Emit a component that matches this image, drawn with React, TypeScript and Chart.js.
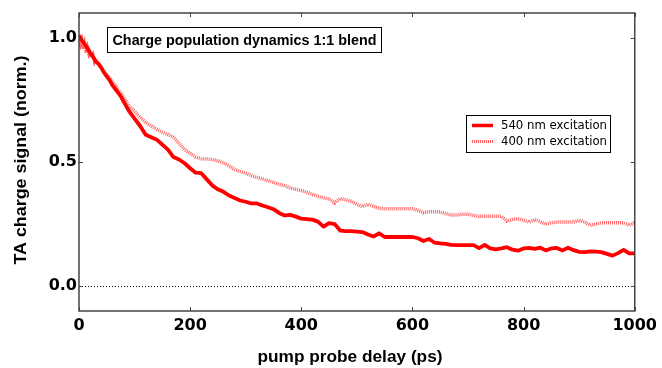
import React, { useEffect, useRef } from "react";
import { Chart, registerables } from "chart.js";

Chart.register(...registerables);

// ---- data ----
const xTickValues = [0, 200, 400, 600, 800, 1000];
const yTickValues = [0, 0.5, 1.0];

const solidX = [0, 5, 10, 15, 20, 25, 30, 35, 40, 45, 50, 55, 60, 65, 70, 75, 80, 85, 90, 95, 100, 110, 120, 130, 140, 150, 160, 170, 180, 190, 200, 210, 220, 230, 240, 250, 260, 270, 280, 290, 300, 310, 320, 330, 340, 350, 360, 370, 380, 390, 400, 410, 420, 430, 440, 450, 460, 470, 480, 490, 500, 510, 520, 530, 540, 550, 560, 570, 580, 590, 600, 610, 620, 630, 640, 650, 660, 670, 680, 690, 700, 710, 720, 730, 740, 750, 760, 770, 780, 790, 800, 810, 820, 830, 840, 850, 860, 870, 880, 890, 900, 910, 920, 930, 940, 950, 960, 970, 980, 990, 1000];
const solidY = [1.01, 0.99, 0.975, 0.96, 0.94, 0.925, 0.905, 0.895, 0.88, 0.86, 0.845, 0.83, 0.81, 0.795, 0.78, 0.765, 0.745, 0.725, 0.705, 0.69, 0.675, 0.645, 0.61, 0.6, 0.59, 0.57, 0.55, 0.52, 0.51, 0.495, 0.475, 0.457, 0.455, 0.43, 0.405, 0.39, 0.38, 0.365, 0.355, 0.345, 0.34, 0.333, 0.333, 0.325, 0.318, 0.31, 0.295, 0.285, 0.287, 0.28, 0.272, 0.27, 0.268, 0.26, 0.24, 0.254, 0.25, 0.224, 0.222, 0.222, 0.22, 0.218, 0.208, 0.2, 0.213, 0.198, 0.198, 0.198, 0.198, 0.198, 0.198, 0.193, 0.182, 0.19, 0.175, 0.172, 0.17, 0.166, 0.165, 0.165, 0.165, 0.165, 0.153, 0.166, 0.152, 0.148, 0.152, 0.157, 0.147, 0.143, 0.152, 0.154, 0.15, 0.155, 0.144, 0.152, 0.154, 0.144, 0.155, 0.145, 0.138, 0.137, 0.14, 0.139, 0.137, 0.13, 0.123, 0.133, 0.146, 0.132, 0.132];

const dottedX = [0, 3, 5, 8, 10, 13, 15, 18, 20, 23, 25, 28, 30, 35, 40, 45, 50, 55, 60, 65, 70, 75, 80, 85, 90, 95, 100, 110, 120, 130, 140, 150, 160, 170, 180, 190, 200, 210, 220, 230, 240, 250, 260, 270, 280, 290, 300, 310, 320, 330, 340, 350, 360, 370, 380, 390, 400, 410, 420, 430, 440, 450, 460, 470, 480, 490, 500, 510, 520, 530, 540, 550, 560, 570, 580, 590, 600, 610, 620, 630, 640, 650, 660, 670, 680, 690, 700, 710, 720, 730, 740, 750, 760, 770, 780, 790, 800, 810, 820, 830, 840, 850, 860, 870, 880, 890, 900, 910, 920, 930, 940, 950, 960, 970, 980, 990, 1000];
const dottedY = [1.0, 0.975, 0.99, 0.955, 0.975, 0.94, 0.96, 0.935, 0.945, 0.92, 0.93, 0.905, 0.915, 0.895, 0.88, 0.865, 0.85, 0.84, 0.82, 0.81, 0.79, 0.78, 0.76, 0.745, 0.725, 0.715, 0.705, 0.68, 0.66, 0.645, 0.632, 0.62, 0.61, 0.6, 0.575, 0.55, 0.535, 0.52, 0.513, 0.512, 0.51, 0.505, 0.497, 0.485, 0.47, 0.462, 0.455, 0.445, 0.438, 0.432, 0.425, 0.418, 0.41, 0.405, 0.395, 0.39, 0.385, 0.378, 0.37, 0.362, 0.355, 0.352, 0.335, 0.353, 0.348, 0.342, 0.33, 0.32, 0.33, 0.322, 0.313, 0.312, 0.312, 0.312, 0.312, 0.312, 0.312, 0.305, 0.296, 0.3, 0.3, 0.299, 0.292, 0.287, 0.287, 0.29, 0.29, 0.285, 0.281, 0.282, 0.282, 0.282, 0.282, 0.262, 0.268, 0.272, 0.265, 0.258, 0.268, 0.26, 0.249, 0.256, 0.258, 0.258, 0.258, 0.258, 0.265, 0.258, 0.245, 0.25, 0.255, 0.255, 0.255, 0.255, 0.255, 0.245, 0.258];

const seriesLabels = ["540 nm excitation", "400 nm excitation"];
const chartTitle = "Charge population dynamics 1:1 blend";
const xTitle = "pump probe delay (ps)";
const yTitle = "TA charge signal (norm.)";

const SOLID_COLOR = "#ff0000";
const DOTTED_COLOR = "rgba(255,30,30,0.7)";

function fitText(ctx: CanvasRenderingContext2D, text: string, cx: number, cy: number, width: number, font: string, rotate = false) {
  ctx.save();
  ctx.font = font;
  const w = ctx.measureText(text).width;
  ctx.translate(cx, cy);
  if (rotate) ctx.rotate(-Math.PI / 2);
  ctx.scale(width / w, 1);
  ctx.textAlign = "center";
  ctx.textBaseline = "middle";
  ctx.fillStyle = "#000";
  ctx.fillText(text, 0, 0);
  ctx.restore();
}

const decorPlugin = {
  id: "decor",
  beforeDatasetsDraw(chart: any) {
    const { ctx, chartArea, scales } = chart;
    const y0 = scales.y.getPixelForValue(0);
    ctx.save();
    ctx.strokeStyle = "#000";
    ctx.lineWidth = 1;
    ctx.setLineDash([1, 2]);
    ctx.beginPath();
    ctx.moveTo(chartArea.left, Math.round(y0) + 0.5);
    ctx.lineTo(chartArea.right, Math.round(y0) + 0.5);
    ctx.stroke();
    ctx.restore();
  },
  afterDraw(chart: any) {
    const { ctx, chartArea, scales } = chart;
    const { left, right, top, bottom } = chartArea;
    ctx.save();
    // frame
    ctx.strokeStyle = "#444";
    ctx.lineWidth = 1.5;
    ctx.strokeRect(left, top, right - left, bottom - top);
    // inward ticks
    ctx.lineWidth = 1;
    ctx.beginPath();
    for (const v of xTickValues) {
      const px = Math.round(scales.x.getPixelForValue(v)) + 0.5;
      ctx.moveTo(px, bottom);
      ctx.lineTo(px, bottom - 4);
      ctx.moveTo(px, top);
      ctx.lineTo(px, top + 4);
    }
    for (const v of yTickValues) {
      const py = Math.round(scales.y.getPixelForValue(v)) + 0.5;
      ctx.moveTo(left, py);
      ctx.lineTo(left + 4, py);
      ctx.moveTo(right, py);
      ctx.lineTo(right - 4, py);
    }
    ctx.stroke();

    // title box
    ctx.strokeStyle = "#000";
    ctx.lineWidth = 1;
    ctx.strokeRect(107.5, 27.5, 274, 25);
    fitText(ctx, chartTitle, 244.5, 40.5, 264, "bold 15px 'Liberation Sans', Arial, sans-serif");

    // legend
    ctx.fillStyle = "#fff";
    ctx.fillRect(466.5, 115.5, 144, 37);
    ctx.strokeStyle = "#000";
    ctx.lineWidth = 1;
    ctx.strokeRect(466.5, 115.5, 144, 37);
    ctx.strokeStyle = SOLID_COLOR;
    ctx.lineWidth = 3.5;
    ctx.beginPath();
    ctx.moveTo(472, 125.5);
    ctx.lineTo(493, 125.5);
    ctx.stroke();
    ctx.strokeStyle = DOTTED_COLOR;
    ctx.lineWidth = 3;
    ctx.setLineDash([1, 1]);
    ctx.beginPath();
    ctx.moveTo(472, 141.5);
    ctx.lineTo(493, 141.5);
    ctx.stroke();
    ctx.setLineDash([]);
    ctx.fillStyle = "#000";
    ctx.font = "11.7px 'DejaVu Sans', sans-serif";
    ctx.textAlign = "left";
    ctx.textBaseline = "middle";
    ctx.fillText(seriesLabels[0], 501, 125.5);
    ctx.fillText(seriesLabels[1], 501, 141.5);

    // axis titles
    fitText(ctx, xTitle, 350, 357, 185, "bold 17px 'Liberation Sans', Arial, sans-serif");
    fitText(ctx, yTitle, 21, 160, 209, "bold 17px 'Liberation Sans', Arial, sans-serif", true);
    ctx.restore();
  },
};

export default function App() {
  const canvasRef = useRef<HTMLCanvasElement | null>(null);

  useEffect(() => {
    if (!canvasRef.current) return;
    const solidData = solidX.map((x, i) => ({ x, y: solidY[i] }));
    const dottedData = dottedX.map((x, i) => ({ x, y: dottedY[i] }));
    const chart = new Chart(canvasRef.current, {
      type: "line",
      data: {
        datasets: [
          {
            label: seriesLabels[0],
            data: solidData,
            borderColor: SOLID_COLOR,
            borderWidth: 3.8,
            pointRadius: 0,
            tension: 0,
            fill: false,
            borderJoinStyle: "round",
          },
          {
            label: seriesLabels[1],
            data: dottedData,
            borderColor: DOTTED_COLOR,
            borderWidth: 3.5,
            borderDash: [1, 1],
            pointRadius: 0,
            tension: 0,
            fill: false,
          },
        ],
      },
      options: {
        animation: false,
        responsive: true,
        maintainAspectRatio: false,
        layout: { padding: { left: 0, top: 13, right: 24, bottom: 0 } },
        plugins: {
          legend: { display: false },
          tooltip: { enabled: false },
          title: { display: false },
        },
        scales: {
          x: {
            type: "linear",
            min: 0,
            max: 1000,
            grid: { display: false, drawTicks: false },
            border: { display: false },
            afterBuildTicks: (scale: any) => {
              scale.ticks = xTickValues.map((v) => ({ value: v }));
            },
            afterFit: (scale: any) => {
              scale.height = 57;
            },
            ticks: {
              padding: 5,
              color: "#000",
              font: { family: "'DejaVu Sans', sans-serif", size: 16, weight: "bold" },
              maxRotation: 0,
              callback: (v: any) => String(v),
            },
          },
          y: {
            type: "linear",
            min: -0.1,
            max: 1.1,
            grid: { display: false, drawTicks: false },
            border: { display: false },
            afterBuildTicks: (scale: any) => {
              scale.ticks = yTickValues.map((v) => ({ value: v }));
            },
            afterFit: (scale: any) => {
              scale.width = 79;
            },
            ticks: {
              padding: 2,
              color: "#000",
              font: { family: "'DejaVu Sans', sans-serif", size: 16, weight: "bold" },
              callback: (v: any) => Number(v).toFixed(1),
            },
          },
        },
      },
      plugins: [decorPlugin],
    });
    return () => chart.destroy();
  }, []);

  return (
    <div style={{ position: "fixed", left: 0, top: 0, width: 662, height: 368, background: "#fff" }}>
      <canvas ref={canvasRef} />
    </div>
  );
}
